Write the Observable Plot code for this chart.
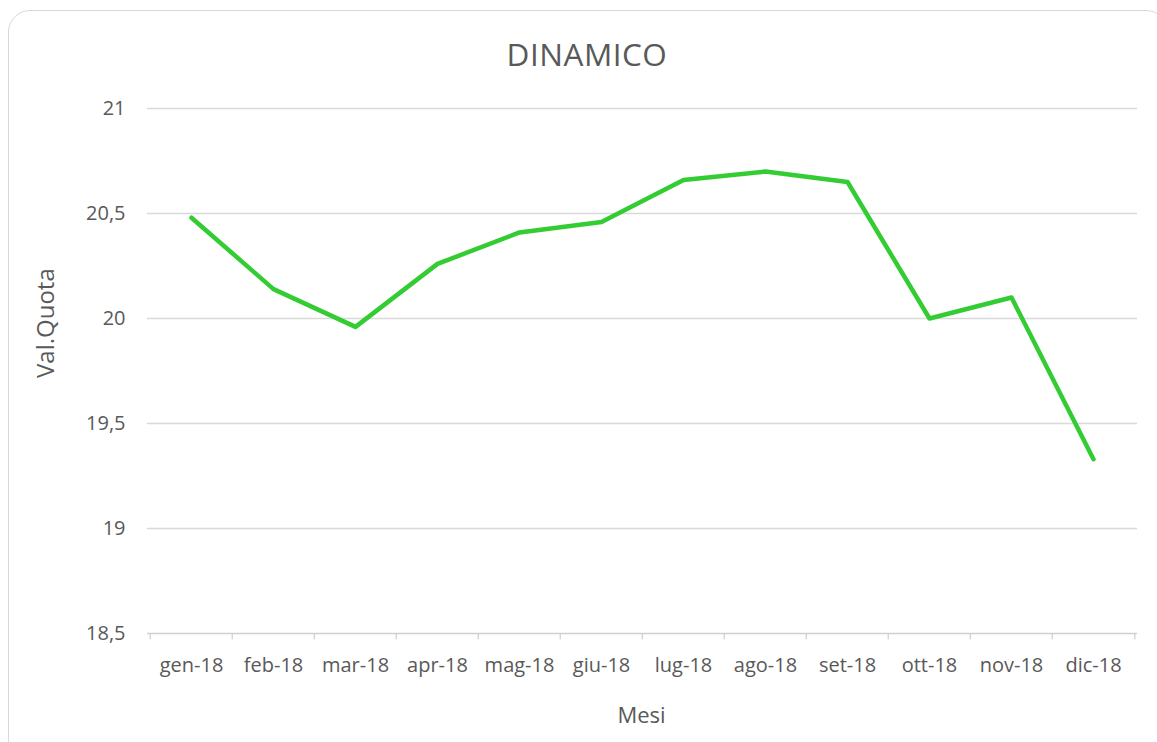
<!DOCTYPE html>
<html>
<head>
<meta charset="utf-8">
<script src="https://cdn.jsdelivr.net/npm/d3@7"></script>
<script src="https://cdn.jsdelivr.net/npm/@observablehq/plot@0.6"></script>
<style>
  html, body { margin: 0; padding: 0; background: #fff; }
  #wrap { position: relative; width: 1157px; height: 742px; overflow: hidden; font-family: "Open Sans", sans-serif; }
  #frame { position: absolute; left: 8px; top: 10px; width: 1160px; height: 760px; border: 1.5px solid #d9d9d9; border-radius: 22px; box-sizing: border-box; }
  #title { position: absolute; left: 0; width: 1174px; top: 32px; text-align: center; font-size: 31.5px; line-height: 44px; color: #595959; letter-spacing: 0.5px; }
  #chart { position: absolute; left: 0; top: 0; }
</style>
</head>
<body>
<div id="wrap">
  <div id="frame"></div>
  <div id="title">DINAMICO</div>
  <div id="chart"></div>
</div>
<script>
const months = ["gen-18","feb-18","mar-18","apr-18","mag-18","giu-18","lug-18","ago-18","set-18","ott-18","nov-18","dic-18"];
const values = [20.48, 20.14, 19.96, 20.26, 20.41, 20.46, 20.66, 20.70, 20.65, 20.00, 20.10, 19.33];
const yTicks = [18.5, 19, 19.5, 20, 20.5, 21];
const xLabel = "Mesi";
const yLabel = "Val.Quota";

const data = months.map((m, i) => ({month: m, value: values[i]}));
const fmt = d => String(d).replace(".", ",");

const W = 1157, H = 742;
const mL = 147, mR = 20, mT = 108, mB = 109;
const bw = (W - mL - mR) / months.length;

const chart = Plot.plot({
  width: W,
  height: H,
  marginLeft: mL,
  marginRight: mR,
  marginTop: mT,
  marginBottom: mB,
  style: {fontFamily: "'Open Sans', sans-serif", fontSize: "20px", color: "#595959", background: "transparent"},
  x: {type: "point", domain: months, padding: 0.5, label: null},
  y: {domain: [18.5, 21], label: null},
  marks: [
    Plot.ruleY(yTicks.filter(d => d !== 18.5), {y: d => d, stroke: "#d9d9d9", strokeWidth: 1.3, strokeOpacity: 1}),
    Plot.ruleY([18.5], {stroke: "#d0d0d0", strokeWidth: 1.5, strokeOpacity: 1}),
    Plot.ruleX(months, {x: d => d, dx: -bw / 2, y1: 18.5, y2: 18.5 - 0.03, stroke: "#d0d0d0", strokeWidth: 1.3}),
    Plot.ruleX([months[months.length - 1]], {x: d => d, dx: bw / 2, y1: 18.5, y2: 18.5 - 0.03, stroke: "#d0d0d0", strokeWidth: 1.3}),
    Plot.axisY(yTicks, {tickSize: 0, tickPadding: 22, tickFormat: fmt, fontSize: 20, fill: "#595959", label: null}),
    Plot.axisX({tickSize: 0, tickPadding: 24, fontSize: 20, fill: "#595959", label: null}),
    Plot.line(data, {x: "month", y: "value", stroke: "#33cc33", strokeWidth: 4.5, strokeLinejoin: "round", strokeLinecap: "round"}),
    Plot.text([xLabel], {frameAnchor: "bottom", dy: 89, dx: -1, text: d => d, fontSize: 22, fill: "#595959"}),
    Plot.text([yLabel], {frameAnchor: "left", dx: -101, dy: 7, rotate: -90, text: d => d, fontSize: 24, fill: "#595959"})
  ]
});
document.getElementById("chart").appendChild(chart);
</script>
</body>
</html>
